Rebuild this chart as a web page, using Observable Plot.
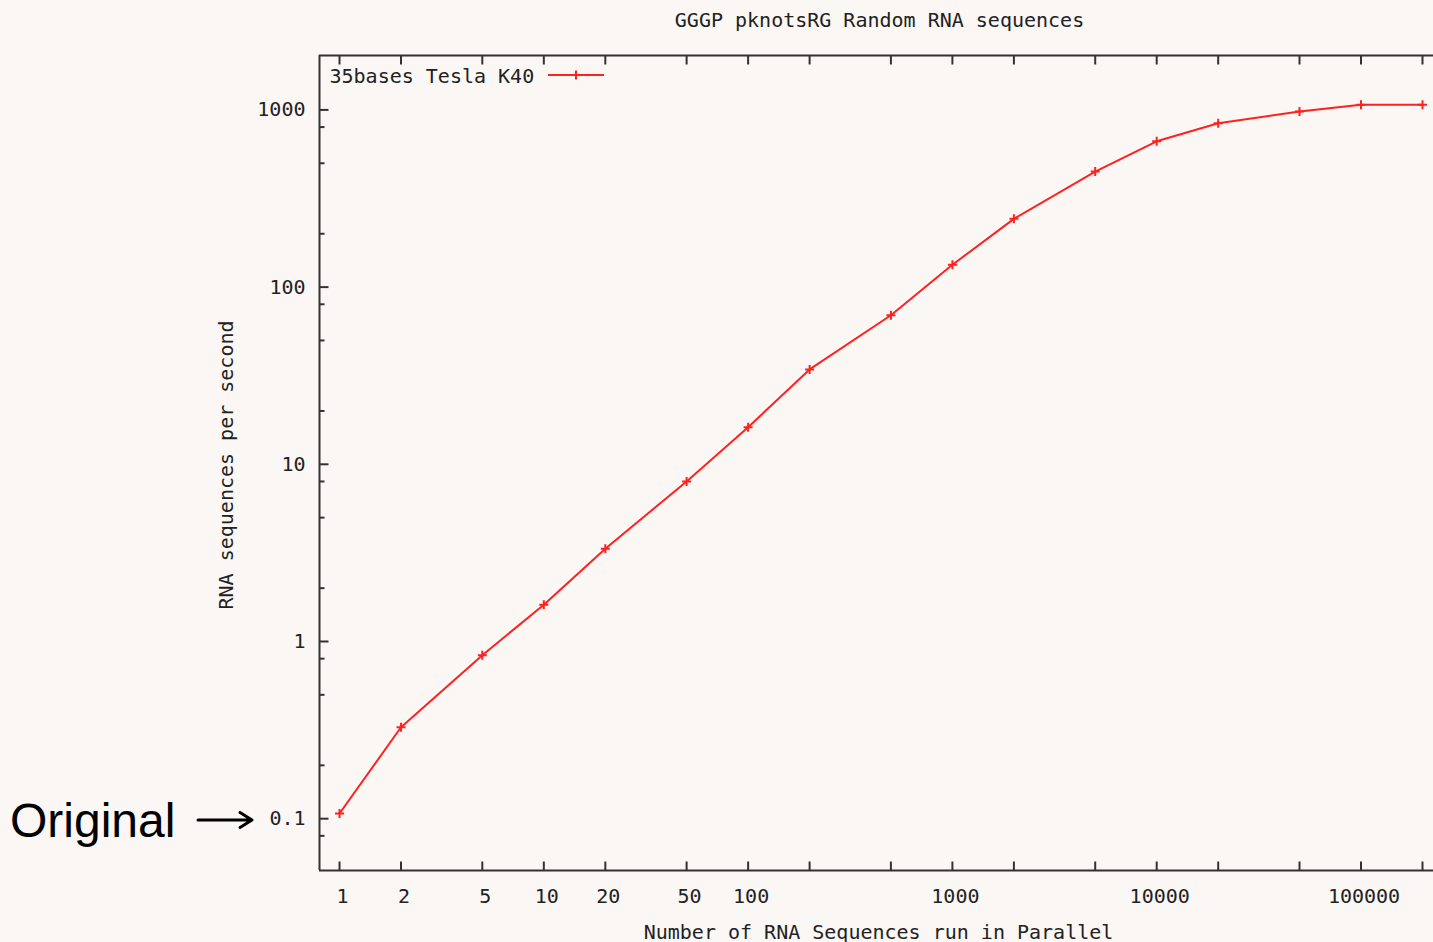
<!DOCTYPE html>
<html>
<head>
<meta charset="utf-8">
<script src="https://cdn.jsdelivr.net/npm/d3@7"></script>
<script src="https://cdn.jsdelivr.net/npm/@observablehq/plot@0.6"></script>
<style>
  html, body { margin: 0; padding: 0; background: #fbf7f4; overflow: hidden; }
  #wrap { position: relative; width: 1433px; height: 942px; }
  #orig { position: absolute; left: 10px; top: 797px; font-family: "Liberation Sans", Arial, sans-serif; font-size: 48px; line-height: 48px; color: #000; white-space: nowrap; }
  #arrow { position: absolute; left: 194px; top: 808px; }
</style>
</head>
<body>
<div id="wrap">
  <div id="chart"></div>
  <div id="orig">Original</div>
  <svg id="arrow" width="64" height="24" viewBox="0 0 64 24">
    <path d="M4 12 L58 12 M46 4.5 L58 12 L46 19.5" fill="none" stroke="#000" stroke-width="3" stroke-linecap="round" stroke-linejoin="round"/>
  </svg>
</div>
<script>
// ---- data ----
const xValues = [1, 2, 5, 10, 20, 50, 100, 200, 500, 1000, 2000, 5000, 10000, 20000, 50000, 100000, 200000];
const yValues = [0.107, 0.328, 0.837, 1.61, 3.34, 8.0, 16.2, 34.3, 69.4, 133.6, 242.7, 449, 665, 841, 979, 1069, 1069];
const seriesName = "35bases Tesla K40";
const titleText = "GGGP pknotsRG Random RNA sequences";
const xLabelText = "Number of RNA Sequences run in Parallel";
const yLabelText = "RNA sequences per second";
const xTickValues = [1, 2, 5, 10, 20, 50, 100, 200, 500, 1000, 2000, 5000, 10000, 20000, 50000, 100000, 200000];
const xTickLabels = [1, 2, 5, 10, 20, 50, 100, 1000, 10000, 100000];
const yMajorTicks = [0.1, 1, 10, 100, 1000];
const yMinorTicks = [0.08, 0.2, 0.5, 0.8, 2, 5, 8, 20, 50, 80, 200, 500, 800];

const data = xValues.map((x, i) => ({x, y: yValues[i]}));

// ---- styling ----
const FONT = "'DejaVu Sans Mono', monospace";
const AX = "#333333";
const TXT = "#222222";
const RED = "#ff2020";

const seg = (x1, y1, x2, y2) => ({draw(ctx) { ctx.moveTo(x1, y1); ctx.lineTo(x2, y2); }});
const plusSym = {draw(ctx) { const a = 4.5; ctx.moveTo(-a, 0); ctx.lineTo(a, 0); ctx.moveTo(0, -a); ctx.lineTo(0, a); }};
const legendSym = {draw(ctx) { ctx.moveTo(-28, 0); ctx.lineTo(28, 0); ctx.moveTo(0, -4.5); ctx.lineTo(0, 4.5); }};

const txt = {fontSize: 20, fontFamily: FONT, fill: TXT, lineAnchor: "middle"};

const chart = Plot.plot({
  width: 1433,
  height: 942,
  marginLeft: 319,
  marginRight: 0,
  marginTop: 55,
  marginBottom: 72,
  style: {background: "#fbf7f4", fontFamily: FONT, overflow: "visible"},
  x: {type: "log", domain: [0.798, 226400], axis: null},
  y: {type: "log", domain: [0.051, 2028], axis: null},
  marks: [
    // frame (left, bottom, top)
    Plot.ruleX([0.798], {stroke: AX, strokeWidth: 2}),
    Plot.ruleY([0.051, 2028], {stroke: AX, strokeWidth: 2}),
    // inward ticks
    Plot.dot(xTickValues, {x: d => d, frameAnchor: "bottom", symbol: seg(0, 0, 0, -9), stroke: AX, strokeWidth: 2, fill: "none"}),
    Plot.dot(xTickValues, {x: d => d, frameAnchor: "top", symbol: seg(0, 0, 0, 9), stroke: AX, strokeWidth: 2, fill: "none"}),
    Plot.dot(yMajorTicks, {y: d => d, frameAnchor: "left", symbol: seg(0, 0, 9, 0), stroke: AX, strokeWidth: 2, fill: "none"}),
    Plot.dot(yMinorTicks, {y: d => d, frameAnchor: "left", symbol: seg(0, 0, 5, 0), stroke: AX, strokeWidth: 2, fill: "none"}),
    // tick labels
    Plot.text(xTickLabels, {x: d => d, text: d => String(d), frameAnchor: "bottom", dx: 3, dy: 26, textAnchor: "middle", ...txt}),
    Plot.text(yMajorTicks, {y: d => d, text: d => String(d), frameAnchor: "left", dx: -14, textAnchor: "end", ...txt}),
    // data
    Plot.line(data, {x: "x", y: "y", stroke: RED, strokeWidth: 2}),
    Plot.dot(data, {x: "x", y: "y", symbol: plusSym, stroke: RED, strokeWidth: 2, fill: "none"}),
    // legend
    Plot.text([seriesName], {frameAnchor: "top-left", dx: 10, dy: 21, textAnchor: "start", ...txt}),
    Plot.dot([0], {frameAnchor: "top-left", dx: 256.5, dy: 19.5, symbol: legendSym, stroke: RED, strokeWidth: 2, fill: "none"}),
    // titles
    Plot.text([titleText], {frameAnchor: "top", dx: 3, dy: -35, textAnchor: "middle", ...txt}),
    Plot.text([xLabelText], {frameAnchor: "bottom", dx: 2, dy: 62, textAnchor: "middle", ...txt}),
    Plot.text([yLabelText], {frameAnchor: "left", dx: -93, dy: 2, rotate: -90, textAnchor: "middle", ...txt})
  ]
});
document.getElementById("chart").appendChild(chart);
</script>
</body>
</html>
